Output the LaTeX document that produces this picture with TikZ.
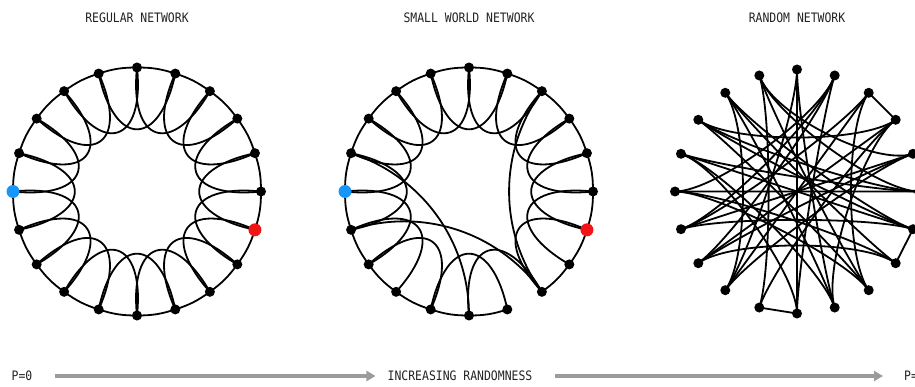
\documentclass[tikz,border=0pt]{standalone}
\usepackage{fontspec}
\newfontfamily\pixfont[FakeStretch=0.88]{DejaVu Sans Mono}
\usetikzlibrary{calc,arrows.meta}
\pgfdeclarelayer{bg}
\pgfsetlayers{bg,main}
\definecolor{netblue}{RGB}{20,150,250}
\definecolor{netred}{RGB}{240,20,20}
\definecolor{arrgray}{RGB}{155,155,155}
\definecolor{txtcol}{RGB}{35,35,35}
\tikzset{
  dot/.style={circle,fill=black,inner sep=0pt,minimum size=10pt},
  bluedot/.style={circle,fill=netblue,inner sep=0pt,minimum size=13pt},
  reddot/.style={circle,fill=netred,inner sep=0pt,minimum size=13pt},
  lnk/.style={line width=1.8pt,black},
  txt/.style={font=\pixfont\fontsize{13}{13}\selectfont,text=txtcol,inner sep=0pt},
  garrow/.style={line width=4pt,arrgray,-{Triangle[length=9pt,width=10pt]}},
}
\begin{document}
\begin{tikzpicture}[x=1pt,y=1pt]
\clip (0,0) rectangle (915,386);
\coordinate (rc) at (137,194.5);
\coordinate (sc) at (469,194.5);
\coordinate (nc) at (797,194.5);
% titles
\node[txt] (t1) at (137,368) {REGULAR NETWORK};
\node[txt] (t2) at (469,368) {SMALL WORLD NETWORK};
\node[txt] (t3) at (797,368) {RANDOM NETWORK};
% nodes
\foreach \i in {0,...,19}{
  \node[dot] (r\i) at ($(rc)+(18*\i:124)$) {};
  \node[dot] (s\i) at ($(sc)+(18*\i:124)$) {};
  \node[dot] (n\i) at ($(nc)+(18*\i:122)$) {};
}
\node[bluedot] (rblue) at (r10.center) {};
\node[reddot] (rred) at (r19.center) {};
\node[bluedot] (sblue) at (s10.center) {};
\node[reddot] (sred) at (s19.center) {};
% edges
\begin{pgfonlayer}{bg}
\foreach \i in {0,...,19}{
  \pgfmathtruncatemacro\j{mod(\i+1,20)}
  \pgfmathtruncatemacro\k{mod(\i+2,20)}
  \pgfmathsetmacro\da{18*\i+186}
  \pgfmathsetmacro\db{18*\i+210}
  \draw[lnk] (r\i.center) to[bend right=9] (r\j.center);
  \draw[lnk] (r\i.center) .. controls ($(r\i.center)+(\da:76)$) and ($(r\k.center)+(\db:76)$) .. (r\k.center);
  \ifnum\i=16 \else
    \draw[lnk] (s\i.center) to[bend right=9] (s\j.center);
  \fi
  \ifnum\i=13 \else\ifnum\i=16 \else
    \draw[lnk] (s\i.center) .. controls ($(s\i.center)+(\da:76)$) and ($(s\k.center)+(\db:76)$) .. (s\k.center);
  \fi\fi
}
\foreach \a/\b in {9/15,11/17,3/17}{
  \draw[lnk] (s\a.center) .. controls ($(s\a.center)!0.6!(sc)$) and ($(s\b.center)!0.6!(sc)$) .. (s\b.center);
}
\foreach \a/\b in {2/3,18/19,14/15}{
  \draw[lnk] (n\a.center) -- (n\b.center);
}
\foreach \a/\b in {5/13,5/16,5/15,6/0,6/1,6/14,6/17,4/10,4/11,4/12,4/15,3/13,3/17,3/11,
  2/8,2/14,2/12,2/16,7/18,7/16,7/19,7/13,8/19,8/0,8/17,9/19,9/0,9/16,9/15,
  10/0,10/18,10/17,11/1,11/19,12/1,12/18,13/1}{
  \draw[lnk] (n\a.center) .. controls ($(n\a.center)!0.33!(nc)$) and ($(n\b.center)!0.33!(nc)$) .. (n\b.center);
}
\end{pgfonlayer}
% bottom axis
\node[txt] (p0) at (22,10) {P=0};
\node[txt] (inc) at (460,10) {INCREASING RANDOMNESS};
\node[txt,anchor=west] (p1) at (904,10) {P=1};
\draw[garrow] ([xshift=22pt]p0.east) -- ([xshift=-12pt]inc.west);
\draw[garrow] ([xshift=22pt]inc.east) -- ([xshift=-21pt]p1.west);
\end{tikzpicture}
\end{document}
